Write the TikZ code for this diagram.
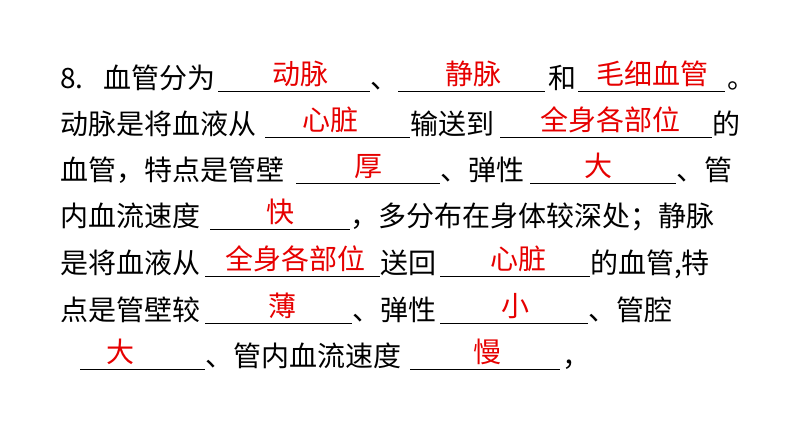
\documentclass[tikz,border=0pt]{standalone}
\usepackage{fontspec}
\setmainfont{Liberation Sans}
\newfontfamily\cjk{Noto Sans CJK SC}
\begin{document}
\begin{tikzpicture}[x=1pt,y=-1pt,
  t/.style={anchor=base west,inner sep=0,font=\cjk\fontsize{28}{28}\selectfont},
  ans/.style={anchor=base,inner sep=0,text={rgb,255:red,230;green,0;blue,0},font=\cjk\fontsize{28}{28}\selectfont},
  ul/.style={line width=0.7pt}]
\useasboundingbox (0,0) rectangle (794,447);
% line 1
\node[t] (a1) at (60,88) {8.};
\node[t] (a2) at (103,88) {血管分为};
\draw[ul] (218,91) coordinate(u1) -- (370,91) coordinate(u2);
\node[ans] (r1) at (300,84) {动脉};
\node[t] (a3) at (370,88) {、};
\draw[ul] (398,91) coordinate(u3) -- (545,91) coordinate(u4);
\node[ans] (r2) at (473,84) {静脉};
\node[t] (a4) at (548,88) {和};
\draw[ul] (578,91) coordinate(u5) -- (725,91) coordinate(u6);
\node[ans] (r3) at (652,84) {毛细血管};
\node[t] (a5) at (727,88) {。};
% line 2
\node[t] (b1) at (60,134) {动脉是将血液从};
\draw[ul] (265,137) coordinate(v1) -- (410,137) coordinate(v2);
\node[ans] (r4) at (330,130) {心脏};
\node[t] (b2) at (410,134) {输送到};
\draw[ul] (500,137) coordinate(v3) -- (712,137) coordinate(v4);
\node[ans] (r5) at (610,130) {全身各部位};
\node[t] (b3) at (712,134) {的};
% line 3
\node[t] (c1) at (60,180) {血管，特点是管壁};
\draw[ul] (296,183) coordinate(w1) -- (440,183) coordinate(w2);
\node[ans] (r6) at (368,176) {厚};
\node[t] (c2) at (440,180) {、弹性};
\draw[ul] (530,183) coordinate(w3) -- (676,183) coordinate(w4);
\node[ans] (r7) at (598,176) {大};
\node[t] (c3) at (676,180) {、管};
% line 4
\node[t] (d1) at (60,226) {内血流速度};
\draw[ul] (210,229) coordinate(x1) -- (350,229) coordinate(x2);
\node[ans] (r8) at (280,222) {快};
\node[t] (d2) at (350,226) {，多分布在身体较深处；静脉};
% line 5
\node[t] (e1) at (60,273) {是将血液从};
\draw[ul] (205,276) coordinate(y1) -- (380,276) coordinate(y2);
\node[ans] (r9) at (295,269) {全身各部位};
\node[t] (e2) at (380,273) {送回};
\draw[ul] (440,276) coordinate(y3) -- (590,276) coordinate(y4);
\node[ans] (r10) at (518,269) {心脏};
\node[t] (e3) at (590,273) {的血管,特};
% line 6
\node[t] (f1) at (60,320) {点是管壁较};
\draw[ul] (205,323) coordinate(z1) -- (352,323) coordinate(z2);
\node[ans] (r11) at (282,316) {薄};
\node[t] (f2) at (352,320) {、弹性};
\draw[ul] (440,323) coordinate(z3) -- (588,323) coordinate(z4);
\node[ans] (r12) at (515,316) {小};
\node[t] (f3) at (588,320) {、管腔};
% line 7
\draw[ul] (80,369) coordinate(q1) -- (205,369) coordinate(q2);
\node[ans] (r13) at (120,362) {大};
\node[t] (g1) at (205,366) {、管内血流速度};
\draw[ul] (410,369) coordinate(q3) -- (560,369) coordinate(q4);
\node[ans] (r14) at (487,362) {慢};
\node[t] (g2) at (562,366) {，};
\end{tikzpicture}
\end{document}
